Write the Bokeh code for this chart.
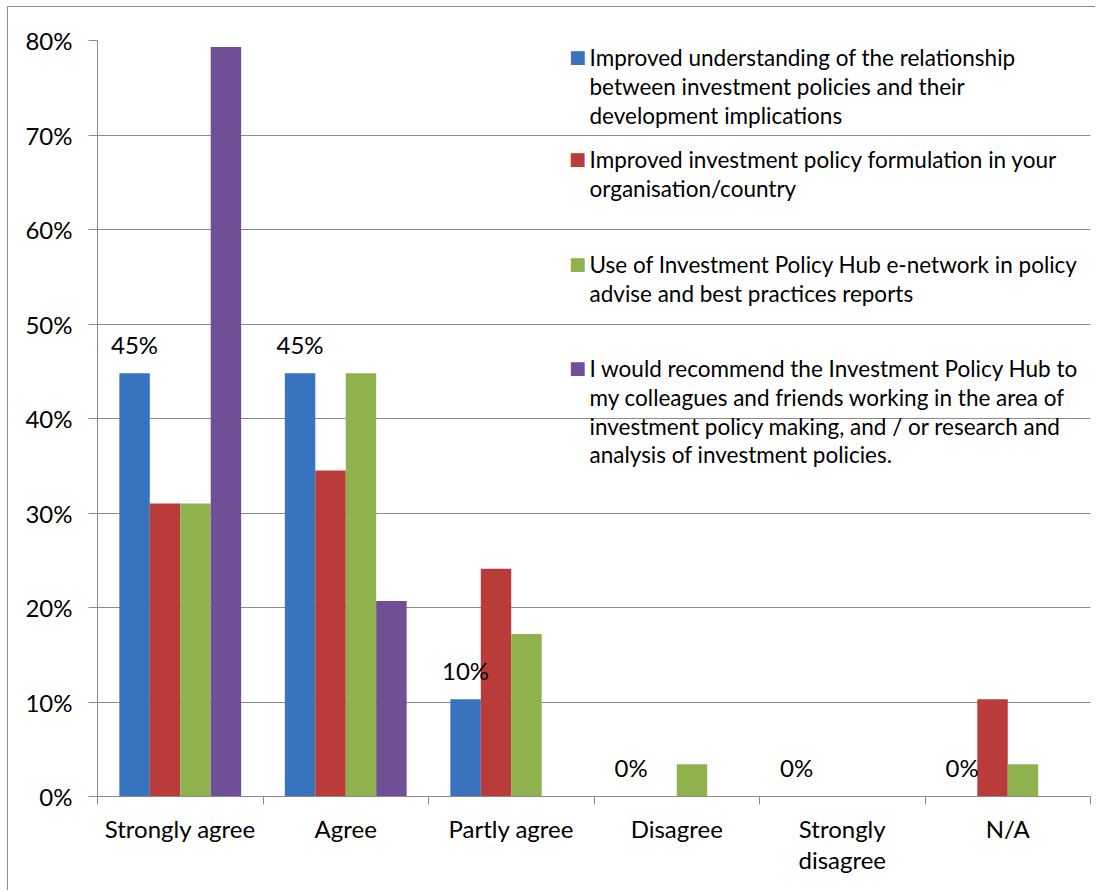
from bokeh.plotting import figure
from bokeh.models import (ColumnDataSource, Range1d, LinearAxis,
                          FixedTicker, PrintfTickFormatter, Label)
from bokeh.transform import dodge
from bokeh.core.properties import value
from bokeh.embed import file_html
from bokeh.resources import INLINE

# ---- data ----
categories = ["Strongly agree", "Agree", "Partly agree", "Disagree", "Strongly\ndisagree", "N/A"]

understanding = [44.8, 44.8, 10.3, 0, 0, 0]
formulation = [31.0, 34.5, 24.1, 0, 0, 10.3]
enetwork = [31.0, 44.8, 17.2, 3.4, 0, 3.4]
recommend = [79.3, 20.7, 0, 0, 0, 0]

series_names = [
    "Improved understanding of the relationship\nbetween investment policies and their\ndevelopment implications",
    "Improved investment policy formulation in your\norganisation/country",
    "Use of Investment Policy Hub e-network in policy\nadvise and best practices reports",
    " I would recommend the Investment Policy Hub to\nmy colleagues and friends working in the area of\ninvestment policy making, and / or research and\nanalysis of investment policies.",
]
y_ticks = [0, 10, 20, 30, 40, 50, 60, 70, 80]

# ---- style ----
FONT = "Lato"
FS = "24px"
LEG_FS = "22.5px"
GRAY = "#8a8a8a"
colors = ["#3873bd", "#b93b3a", "#8fb24e", "#6f5096"]
W, H = 1088, 884
FRAME_LEFT, FRAME_BOTTOM = 97, 796   # page px, used to place the manual legend

n = len(categories)
centers = [i + 0.5 for i in range(n)]
src = ColumnDataSource(dict(
    x=centers,
    s0=understanding, s1=formulation, s2=enetwork, s3=recommend,
    lbl=[f"{v:.0f}%" for v in understanding],
))

p = figure(x_range=Range1d(0, n), y_range=Range1d(0, 80),
           width=W, height=H, output_backend="svg", toolbar_location=None,
           x_axis_location=None,
           min_border_left=89, min_border_right=6, min_border_top=33, min_border_bottom=95)
p.styles = {"margin-left": "7px", "margin-top": "6px",
            "border-left": "1px solid #8c8c8c", "border-top": "1px solid #8c8c8c"}
p.outline_line_color = None
p.background_fill_color = "white"
p.border_fill_color = "white"
p.xgrid.visible = False

# y axis
p.yaxis.ticker = FixedTicker(ticks=y_ticks)
p.yaxis.formatter = PrintfTickFormatter(format="%d%%")
p.yaxis.axis_line_color = GRAY
p.yaxis.major_tick_line_color = GRAY
p.yaxis.major_tick_out = 9
p.yaxis.major_tick_in = 0
p.yaxis.minor_tick_line_color = None
p.yaxis.major_label_standoff = 16
p.yaxis.major_label_text_font = FONT
p.yaxis.major_label_text_font_size = FS
p.yaxis.major_label_text_color = "black"
p.ygrid.grid_line_color = GRAY
p.ygrid.grid_line_width = 1

# x boundary axis (tick marks between categories)
bax = LinearAxis(ticker=FixedTicker(ticks=list(range(n + 1))),
                 major_label_text_font_size="1px", major_label_text_color=None,
                 major_label_standoff=0,
                 major_tick_out=8, major_tick_in=0, minor_tick_line_color=None,
                 axis_line_color=GRAY, major_tick_line_color=GRAY)
p.add_layout(bax, "below")
# category label axis
cax = LinearAxis(ticker=FixedTicker(ticks=centers),
                 major_label_overrides={c: name for c, name in zip(centers, categories)},
                 major_tick_line_color=None, axis_line_color=None, minor_tick_line_color=None,
                 major_label_standoff=3, major_label_text_font=FONT,
                 major_label_text_font_size=FS, major_label_text_color="black",
                 major_label_text_line_height=1.1)
p.add_layout(cax, "below")

# bars
bw = 0.184
offsets = [-1.5 * bw, -0.5 * bw, 0.5 * bw, 1.5 * bw]
for i, (off, c) in enumerate(zip(offsets, colors)):
    p.vbar(x=dodge("x", off), top=f"s{i}", width=bw, source=src,
           fill_color=c, line_color=None)

# data labels for first series
p.text(x=dodge("x", offsets[0]), y="s0", text="lbl", source=src,
       text_align="center", text_baseline="alphabetic", y_offset=-29,
       text_font=value(FONT), text_font_size=FS, text_color="black")

# legend (manual, multi-line); label screen units are relative to the frame
first_baselines = [57, 159, 264, 368]   # page y of first line positions
line_step = 28.8
for name, c, b0 in zip(series_names, colors, first_baselines):
    lines = name.split("\n")
    p.add_layout(Label(x=577 - FRAME_LEFT, y=FRAME_BOTTOM - (b0 - 1), x_units="screen", y_units="screen",
                       text="■", text_color=c, text_font="DejaVu Sans",
                       text_font_size="18px", text_align="center", text_baseline="middle"))
    for j, ln in enumerate(lines):
        p.add_layout(Label(x=589 - FRAME_LEFT, y=FRAME_BOTTOM - (b0 + j * line_step),
                           x_units="screen", y_units="screen",
                           text=ln, text_color="black", text_font=FONT,
                           text_font_size=LEG_FS, text_align="left", text_baseline="alphabetic"))

open("out.html", "w").write(file_html(p, INLINE))
